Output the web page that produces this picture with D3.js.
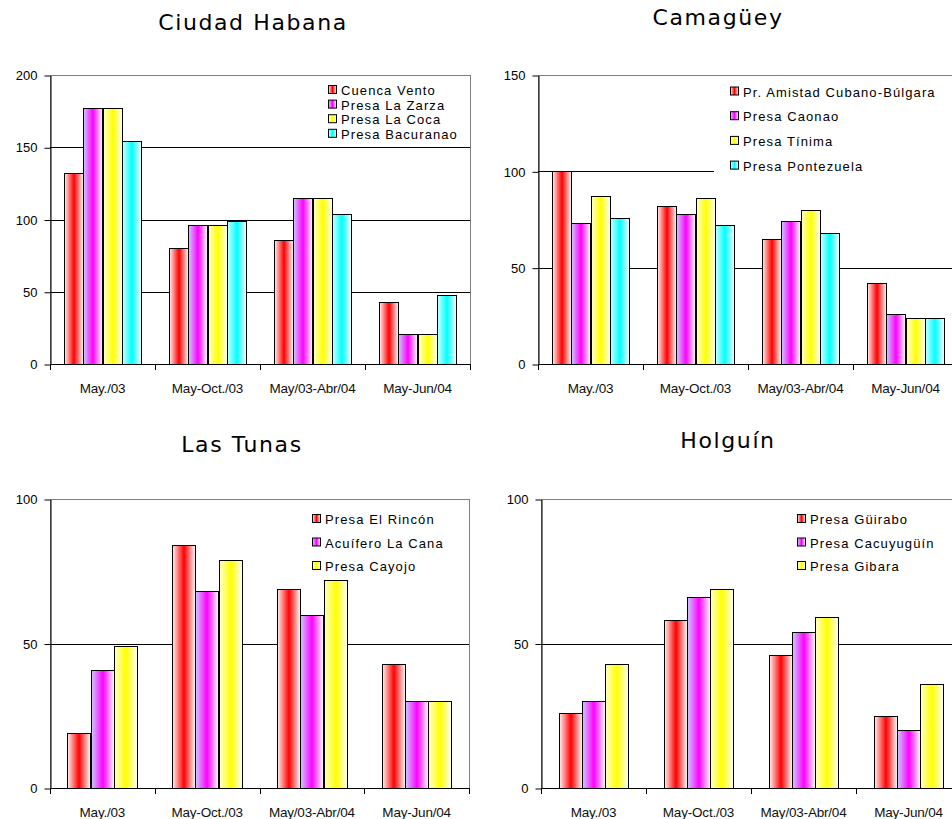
<!DOCTYPE html>
<html>
<head>
<meta charset="utf-8">
<script src="https://cdn.jsdelivr.net/npm/d3@7"></script>
<style>
  body { margin: 0; background: #fff; }
  svg { display: block; }
</style>
</head>
<body>
<script>
const categories = ["May./03", "May-Oct./03", "May/03-Abr/04", "May-Jun/04"];

const habanaSeries = ["Cuenca Vento", "Presa La Zarza", "Presa La Coca", "Presa Bacuranao"];
const habanaValues = [
  [132, 80, 86, 43],
  [177, 96, 115, 21],
  [177, 96, 115, 21],
  [154, 99, 104, 48],
];
const habanaTicks = [0, 50, 100, 150, 200];

const camagueySeries = ["Pr. Amistad Cubano-Búlgara", "Presa Caonao", "Presa Tínima", "Presa Pontezuela"];
const camagueyValues = [
  [100, 82, 65, 42],
  [73, 78, 74, 26],
  [87, 86, 80, 24],
  [76, 72, 68, 24],
];
const camagueyTicks = [0, 50, 100, 150];

const tunasSeries = ["Presa El Rincón", "Acuífero La Cana", "Presa Cayojo"];
const tunasValues = [
  [19, 84, 69, 43],
  [41, 68, 60, 30],
  [49, 79, 72, 30],
];
const tunasTicks = [0, 50, 100];

const holguinSeries = ["Presa Güirabo", "Presa Cacuyugüín", "Presa Gibara"];
const holguinValues = [
  [26, 58, 46, 25],
  [30, 66, 54, 20],
  [43, 69, 59, 36],
];
const holguinTicks = [0, 50, 100];

// fill pairs: full colour and the pale edge of the gradient
const fills = [
  { full: "#ff0000", pale: "#fff0f0" },
  { full: "#ff00ff", pale: "#ccccff" },
  { full: "#ffff00", pale: "#ffffcc" },
  { full: "#00ffff", pale: "#ccffff" },
];

const panels = [
  { title: "Ciudad Habana", series: habanaSeries, values: habanaValues, ticks: habanaTicks,
    left: 50, right: 470, top: 75, bottom: 364, titleX: 253, titleY: 30,
    legX: 328, legY: 90, legStep: 14.6, legBox: [320, 78, 148, 64] },
  { title: "Camagüey", series: camagueySeries, values: camagueyValues, ticks: camagueyTicks,
    left: 538, right: 958, top: 75, bottom: 364, titleX: 718, titleY: 25,
    legX: 730, legY: 91.5, legStep: 24.7, legBox: [714, 78, 240, 100] },
  { title: "Las Tunas", series: tunasSeries, values: tunasValues, ticks: tunasTicks,
    left: 50, right: 469, top: 499, bottom: 788, titleX: 242, titleY: 452,
    legX: 312, legY: 519, legStep: 23.5, legBox: [305, 505, 160, 74] },
  { title: "Holguín", series: holguinSeries, values: holguinValues, ticks: holguinTicks,
    left: 541, right: 961, top: 499, bottom: 788, titleX: 728, titleY: 448,
    legX: 797, legY: 519, legStep: 23.5, legBox: [790, 505, 162, 74] },
];

const svg = d3.select("body").append("svg")
  .attr("width", 952)
  .attr("height", 819);

const defs = svg.append("defs");
fills.forEach((f, i) => {
  const grad = defs.append("linearGradient")
    .attr("id", "fill" + i)
    .attr("x1", 0).attr("x2", 1).attr("y1", 0).attr("y2", 0);
  grad.append("stop").attr("offset", "0%").attr("stop-color", f.pale);
  grad.append("stop").attr("offset", "50%").attr("stop-color", f.full);
  grad.append("stop").attr("offset", "100%").attr("stop-color", "#ffffff");
});

const font = "'Liberation Sans', Arial, sans-serif";

function drawPanel(p) {
  const g = svg.append("g");

  const x = d3.scaleBand().domain(categories).range([p.left, p.right]);
  const xs = d3.scaleBand()
    .domain(p.series)
    .range([0, x.bandwidth()])
    .paddingInner(0)
    .paddingOuter(0.75);
  const maxV = d3.max(p.ticks);
  const y = d3.scaleLinear().domain([0, maxV]).range([p.bottom, p.top]);

  // plot area
  g.append("rect")
    .attr("x", p.left + 0.5)
    .attr("y", y(maxV) + 0.5)
    .attr("width", p.right - p.left)
    .attr("height", y(0) - y(maxV))
    .attr("fill", "#fff")
    .attr("stroke", "#808080");

  // grid lines
  g.selectAll(".grid")
    .data(p.ticks.filter((t) => t > 0 && t < maxV))
    .enter()
    .append("line")
    .attr("x1", p.left)
    .attr("x2", p.right)
    .attr("y1", (d) => Math.round(y(d)) + 0.5)
    .attr("y2", (d) => Math.round(y(d)) + 0.5)
    .attr("stroke", "#000");

  // legend background hides the grid behind it
  g.append("rect")
    .attr("x", p.legBox[0])
    .attr("y", p.legBox[1])
    .attr("width", p.legBox[2])
    .attr("height", p.legBox[3])
    .attr("fill", "#fff");

  // bars
  p.series.forEach((s, si) => {
    g.selectAll(".bar" + si)
      .data(p.values[si])
      .enter()
      .append("rect")
      .attr("x", (d, ci) => Math.round(x(categories[ci]) + xs(s)) + 0.5)
      .attr("y", (d) => Math.round(y(d)) + 0.5)
      .attr("width", Math.round(xs.bandwidth()))
      .attr("height", (d) => Math.round(y(0)) - Math.round(y(d)))
      .attr("fill", `url(#fill${si})`)
      .attr("stroke", "#000");
  });

  // y axis
  const yAxis = g.append("g")
    .attr("transform", `translate(${p.left + 0.5},0.5)`)
    .call(d3.axisLeft(y).tickValues(p.ticks).tickSize(6).tickSizeOuter(0).tickPadding(7));
  yAxis.select(".domain").attr("stroke", "#000");
  yAxis.selectAll("text")
    .attr("fill", "#000")
    .style("font-family", font)
    .style("font-size", "13px");

  // x axis
  const bounds = categories.map((c) => x(c)).concat([p.right]);
  g.append("line")
    .attr("x1", p.left)
    .attr("x2", p.right)
    .attr("y1", Math.round(y(0)) + 0.5)
    .attr("y2", Math.round(y(0)) + 0.5)
    .attr("stroke", "#000");
  g.selectAll(".xtick")
    .data(bounds)
    .enter()
    .append("line")
    .attr("x1", (d) => Math.round(d) + 0.5)
    .attr("x2", (d) => Math.round(d) + 0.5)
    .attr("y1", y(0))
    .attr("y2", y(0) + 6)
    .attr("stroke", "#000");
  g.selectAll(".xlabel")
    .data(categories)
    .enter()
    .append("text")
    .attr("x", (d) => x(d) + x.bandwidth() / 2)
    .attr("y", y(0) + 29)
    .attr("text-anchor", "middle")
    .style("font-family", font)
    .style("font-size", "13.5px")
    .style("letter-spacing", "-0.2px")
    .attr("fill", "#111")
    .text((d) => d);

  // legend
  const leg = g.selectAll(".leg")
    .data(p.series)
    .enter()
    .append("g")
    .attr("transform", (d, i) => `translate(${p.legX},${p.legY + i * p.legStep})`);
  leg.append("rect")
    .attr("x", 0.5)
    .attr("y", -4.5)
    .attr("width", 8)
    .attr("height", 8)
    .attr("fill", (d, i) => `url(#fill${i})`)
    .attr("stroke", "#000");
  leg.append("text")
    .attr("x", 13)
    .attr("y", 5)
    .style("font-family", font)
    .style("font-size", "13px")
    .style("letter-spacing", "1.1px")
    .attr("fill", "#000")
    .text((d) => d);

  // title
  g.append("text")
    .attr("x", p.titleX)
    .attr("y", p.titleY)
    .attr("text-anchor", "middle")
    .style("font-family", "'DejaVu Sans', Verdana, sans-serif")
    .style("font-size", "22px")
    .style("letter-spacing", "1.6px")
    .attr("fill", "#000")
    .text(p.title);
}

panels.forEach(drawPanel);
</script>
</body>
</html>
